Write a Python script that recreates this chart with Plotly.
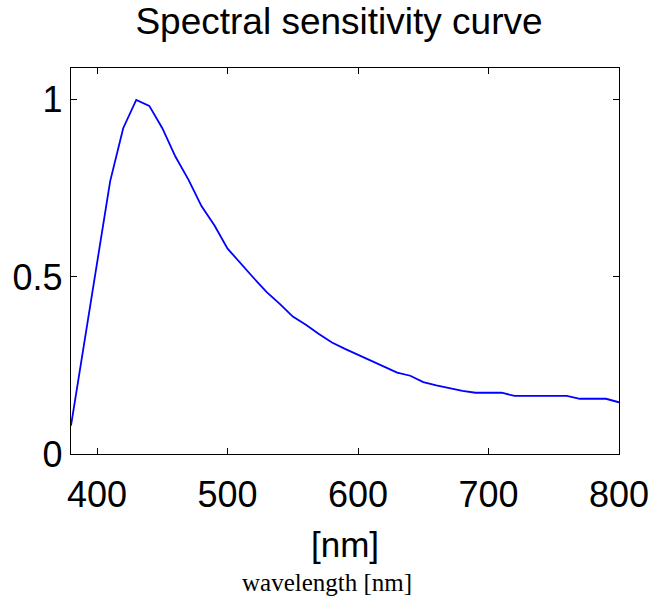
import plotly.graph_objects as go

wavelength = [380, 390, 400, 410, 420, 430, 440, 450, 460, 470, 480, 490, 500,
              510, 520, 530, 540, 550, 560, 570, 580, 590, 600, 610, 620, 630,
              640, 650, 660, 670, 680, 690, 700, 710, 720, 730, 740, 750, 760,
              770, 780, 790, 800]
sensitivity = [0.08, 0.31, 0.54, 0.77, 0.92, 1.00, 0.983, 0.92, 0.84, 0.775,
               0.70, 0.645, 0.58, 0.537, 0.497, 0.457, 0.424, 0.388, 0.365,
               0.339, 0.315, 0.297, 0.28, 0.265, 0.246, 0.23, 0.221, 0.203,
               0.194, 0.186, 0.178, 0.173, 0.173, 0.173, 0.164, 0.164, 0.164,
               0.164, 0.164, 0.156, 0.156, 0.156, 0.146]
x_ticks = [400, 500, 600, 700, 800]
y_ticks = [0, 0.5, 1]
y_ticklabels = ["0", "0.5", "1"]

W, H = 651, 598
L, R, T, B = 71, 32, 68, 144

fig = go.Figure()
fig.add_trace(go.Scatter(x=wavelength, y=sensitivity, mode="lines",
                         line=dict(color="#0000ff", width=1.8),
                         showlegend=False, hoverinfo="skip"))

axis_common = dict(showline=True, linecolor="black", linewidth=1.3,
                   mirror="ticks", ticks="inside", ticklen=6,
                   tickcolor="black", tickwidth=1.3, showgrid=False,
                   zeroline=False, automargin=False,
                   tickfont=dict(family="Liberation Sans, Arial, sans-serif",
                                 size=36, color="black"))

fig.update_layout(
    width=W, height=H,
    margin=dict(l=L, r=R, t=T, b=B, autoexpand=False),
    paper_bgcolor="white", plot_bgcolor="white",
    title=dict(text="Spectral sensitivity curve",
               font=dict(family="Liberation Sans, Arial, sans-serif",
                         size=37, color="black"),
               x=339 / W, xanchor="center", xref="container",
               y=1 - 21 / H, yanchor="middle", yref="container"),
    xaxis=dict(range=[380, 800], tickvals=x_ticks, ticklabelstandoff=9,
               title=dict(text="[nm]", standoff=18,
                          font=dict(family="Liberation Sans, Arial, sans-serif",
                                    size=35, color="black")),
               **axis_common),
    yaxis=dict(range=[0, 1.09], tickvals=y_ticks, ticktext=y_ticklabels,
               **axis_common),
    annotations=[dict(text="wavelength [nm]", xref="paper", yref="paper",
                      x=(326.5 - L) / (W - L - R),
                      y=-(582 - (H - B)) / (H - T - B),
                      xanchor="center", yanchor="middle", showarrow=False,
                      font=dict(family="Liberation Serif, Times New Roman, serif",
                                size=25, color="black"))],
)

fig.write_html("out.html")
